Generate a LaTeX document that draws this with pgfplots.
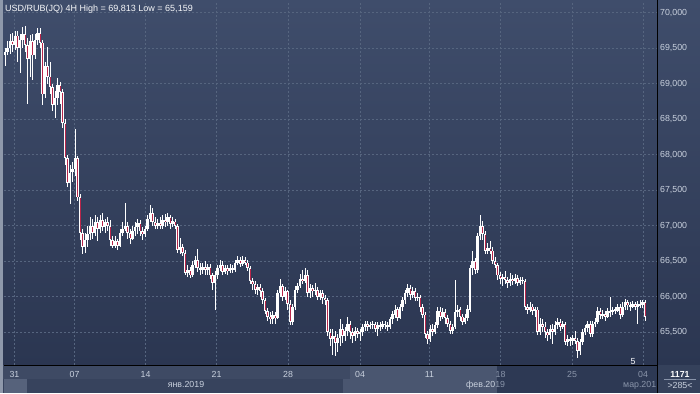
\documentclass[border=0pt]{standalone}
\usepackage{fontspec}
\setmainfont{Liberation Sans}
\usepackage{pgfplots}
\usepackage{pgfplotstable}
\pgfplotsset{compat=1.18}
\definecolor{bgtop}{HTML}{3F4D6B}
\definecolor{bgbot}{HTML}{2B3651}
\definecolor{gridc}{HTML}{56657F}
\definecolor{lbl}{HTML}{C9D1DE}
\definecolor{lbldim}{HTML}{8A95AA}
\definecolor{bear}{HTML}{B8264A}
\definecolor{bandA}{HTML}{3E4A64}
\definecolor{bandB}{HTML}{37435D}
\definecolor{bandL}{HTML}{56627B}
\definecolor{bandM}{HTML}{4A5670}
\definecolor{bandD}{HTML}{2D3954}
\definecolor{boxc}{HTML}{35415B}
\definecolor{strip}{HTML}{8F99AB}
\definecolor{pricebox}{HTML}{C9CED8}
\definecolor{pricetxt}{HTML}{2B3650}

\pgfplotstableread{
o h l c
69.40 69.50 69.25 69.45
69.45 69.60 69.40 69.50
69.50 69.70 69.42 69.60
69.60 69.72 69.45 69.55
69.55 69.75 69.48 69.68
69.68 69.74 69.30 69.50
69.50 69.70 69.15 69.62
69.62 69.80 69.50 69.70
69.70 69.81 69.45 69.55
69.55 69.65 68.72 69.35
69.35 69.68 69.10 69.60
69.60 69.70 69.05 69.40
69.40 69.70 69.35 69.62
69.62 69.78 69.55 69.72
69.72 69.78 69.50 69.58
69.58 69.62 68.70 68.85
68.85 69.30 68.80 69.25
69.25 69.52 69.00 69.10
69.10 69.30 68.85 68.95
68.95 69.00 68.62 68.70
68.70 68.90 68.52 68.80
68.80 69.08 68.70 68.98
68.98 69.02 68.72 68.88
68.88 68.92 68.38 68.45
68.45 68.50 67.85 67.95
67.95 68.00 67.55 67.60
67.60 67.85 67.30 67.75
67.75 67.90 67.62 67.80
67.80 68.37 67.70 67.95
67.95 67.98 67.35 67.40
67.40 67.45 66.80 66.90
66.90 66.95 66.60 66.70
66.70 66.90 66.62 66.80
66.80 67.00 66.70 66.88
66.88 67.12 66.80 67.00
67.00 67.10 66.82 66.90
66.90 67.15 66.85 67.05
67.05 67.12 66.78 66.95
66.95 67.15 66.90 67.08
67.08 67.18 66.92 66.98
66.98 67.10 66.90 67.05
67.05 67.12 66.92 67.00
67.00 67.08 66.72 66.80
66.80 66.85 66.68 66.72
66.72 66.85 66.68 66.78
66.78 66.82 66.66 66.72
66.72 66.95 66.70 66.90
66.90 67.05 66.85 66.95
66.95 67.32 66.92 67.00
67.00 67.05 66.82 66.90
66.90 66.95 66.75 66.82
66.82 67.00 66.80 66.92
66.92 67.05 66.85 66.98
66.98 67.10 66.88 67.04
67.04 67.08 66.85 66.92
66.92 66.98 66.80 66.88
66.88 67.00 66.84 66.95
66.95 67.15 66.92 67.10
67.10 67.29 67.05 67.18
67.18 67.25 67.00 67.05
67.05 67.12 66.95 67.00
67.00 67.10 66.95 67.04
67.04 67.12 66.96 67.00
67.00 67.15 66.95 67.08
67.08 67.17 66.98 67.05
67.05 67.18 67.00 67.12
67.12 67.15 66.95 67.02
67.02 67.12 66.98 67.06
67.06 67.10 66.96 67.00
67.00 67.03 66.62 66.66
66.66 66.82 66.60 66.70
66.70 66.75 66.58 66.62
66.62 66.66 66.30 66.33
66.33 66.45 66.28 66.38
66.38 66.42 66.26 66.30
66.30 66.50 66.28 66.45
66.45 66.58 66.40 66.52
66.52 66.67 66.35 66.40
66.40 66.48 66.30 66.38
66.38 66.48 66.32 66.42
66.42 66.50 66.30 66.38
66.38 66.46 66.30 66.42
66.42 66.46 66.25 66.30
66.30 66.34 66.10 66.20
66.20 66.36 65.82 66.30
66.30 66.45 66.25 66.40
66.40 66.52 66.36 66.45
66.45 66.50 66.30 66.35
66.35 66.45 66.32 66.40
66.40 66.45 66.30 66.36
66.36 66.46 66.33 66.40
66.40 66.44 66.33 66.38
66.38 66.52 66.35 66.48
66.48 66.58 66.44 66.52
66.52 66.56 66.42 66.46
66.46 66.58 66.43 66.52
66.52 66.56 66.44 66.48
66.48 66.52 66.36 66.40
66.40 66.44 66.18 66.22
66.22 66.26 66.10 66.18
66.18 66.22 66.04 66.10
66.10 66.18 66.02 66.14
66.14 66.18 66.00 66.08
66.08 66.12 65.90 65.95
65.95 65.98 65.75 65.80
65.80 65.84 65.66 65.72
65.72 65.78 65.62 65.68
65.68 65.80 65.62 65.74
65.74 65.78 65.62 65.70
65.70 66.10 65.68 66.05
66.05 66.25 66.00 66.15
66.15 66.18 65.94 66.00
66.00 66.14 65.95 66.08
66.08 66.10 65.82 65.90
65.90 65.95 65.60 65.65
65.65 65.90 65.60 65.85
65.85 66.15 65.82 66.10
66.10 66.20 66.05 66.15
66.15 66.32 66.12 66.25
66.25 66.38 66.18 66.22
66.22 66.40 66.20 66.30
66.30 66.38 66.00 66.05
66.05 66.18 65.98 66.12
66.12 66.16 66.00 66.08
66.08 66.20 66.02 66.10
66.10 66.14 65.96 66.00
66.00 66.10 65.95 66.05
66.05 66.10 65.90 65.98
65.98 66.02 65.88 65.95
65.95 65.98 65.45 65.50
65.50 65.55 65.30 65.40
65.40 65.55 65.18 65.45
65.45 65.52 65.16 65.35
65.35 65.48 65.22 65.42
65.42 65.68 65.30 65.55
65.55 65.62 65.35 65.45
65.45 65.58 65.38 65.52
65.52 65.72 65.45 65.62
65.62 65.66 65.40 65.50
65.50 65.56 65.35 65.45
65.45 65.58 65.38 65.52
65.52 65.56 65.42 65.48
65.48 65.55 65.38 65.50
65.50 65.62 65.45 65.58
65.58 65.66 65.52 65.62
65.62 65.66 65.52 65.58
65.58 65.64 65.54 65.60
65.60 65.66 65.55 65.62
65.62 65.65 65.50 65.55
65.55 65.64 65.45 65.60
65.60 65.65 65.52 65.58
65.58 65.66 65.54 65.62
65.62 65.66 65.55 65.60
65.60 65.65 65.52 65.58
65.58 65.72 65.55 65.68
65.68 65.80 65.62 65.75
65.75 65.88 65.70 65.82
65.82 65.86 65.66 65.70
65.70 65.90 65.68 65.85
65.85 66.00 65.80 65.95
65.95 66.10 65.90 66.05
66.05 66.18 66.00 66.12
66.12 66.16 65.96 66.02
66.02 66.14 65.98 66.08
66.08 66.12 65.94 65.98
65.98 66.05 65.94 66.00
66.00 66.02 65.78 65.85
65.85 65.90 65.70 65.75
65.75 65.78 65.42 65.48
65.48 65.52 65.33 65.40
65.40 65.60 65.36 65.55
65.55 65.62 65.45 65.50
65.50 65.65 65.48 65.60
65.60 65.85 65.56 65.80
65.80 65.86 65.66 65.72
65.72 65.84 65.68 65.78
65.78 65.82 65.62 65.70
65.70 65.74 65.58 65.62
65.62 65.66 65.48 65.52
65.52 65.62 65.48 65.58
65.58 66.23 65.55 65.78
65.78 65.88 65.72 65.82
65.82 65.86 65.66 65.72
65.72 65.76 65.60 65.65
65.65 65.76 65.62 65.70
65.70 65.88 65.66 65.82
65.82 66.45 65.78 66.40
66.40 66.64 66.30 66.50
66.50 66.55 66.32 66.38
66.38 66.90 66.34 66.85
66.85 67.15 66.80 67.00
67.00 67.06 66.80 66.88
66.88 66.92 66.60 66.64
66.64 66.76 66.60 66.68
66.68 66.78 66.60 66.65
66.65 66.70 66.46 66.50
66.50 66.56 66.40 66.45
66.45 66.48 66.24 66.30
66.30 66.35 66.18 66.25
66.25 66.32 66.15 66.28
66.28 66.36 66.18 66.24
66.24 66.28 66.12 66.20
66.20 66.34 66.15 66.25
66.25 66.30 66.16 66.22
66.22 66.32 66.18 66.26
66.26 66.30 66.15 66.20
66.20 66.28 66.16 66.24
66.24 66.28 66.18 66.22
66.22 66.25 65.82 65.86
65.86 65.90 65.76 65.82
65.82 65.92 65.78 65.86
65.86 65.90 65.74 65.80
65.80 65.86 65.72 65.82
65.82 65.85 65.46 65.50
65.50 65.70 65.46 65.62
65.62 65.68 65.50 65.58
65.58 65.65 65.42 65.50
65.50 65.55 65.38 65.46
65.46 65.60 65.40 65.55
65.55 65.62 65.34 65.50
65.50 65.66 65.46 65.60
65.60 65.70 65.55 65.64
65.64 65.68 65.52 65.58
65.58 65.66 65.54 65.62
65.62 65.64 65.32 65.36
65.36 65.46 65.30 65.40
65.40 65.44 65.30 65.38
65.38 65.46 65.32 65.42
65.42 65.52 65.34 65.38
65.38 65.42 65.14 65.24
65.24 65.40 65.18 65.36
65.36 65.55 65.32 65.50
65.50 65.60 65.46 65.56
65.56 65.66 65.50 65.62
65.62 65.66 65.44 65.48
65.48 65.66 65.44 65.62
65.62 65.70 65.58 65.65
65.65 65.86 65.62 65.80
65.80 65.84 65.68 65.74
65.74 65.82 65.68 65.76
65.76 65.80 65.66 65.72
65.72 65.84 65.70 65.80
65.80 66.00 65.72 65.78
65.78 65.86 65.74 65.82
65.82 65.86 65.76 65.80
65.80 65.90 65.78 65.86
65.86 65.90 65.68 65.74
65.74 65.92 65.72 65.86
65.86 65.97 65.82 65.92
65.92 65.96 65.82 65.88
65.88 65.92 65.80 65.86
65.86 65.94 65.84 65.90
65.90 65.93 65.82 65.86
65.86 65.94 65.62 65.90
65.90 65.95 65.84 65.88
65.88 65.96 65.84 65.92
65.92 65.95 65.66 65.72
}\candles

\begin{document}
\begin{tikzpicture}
\begin{scope}[x=1pt,y=1pt]
\shade[top color=bgtop,bottom color=bgbot] (0,28) rectangle (700,393);
\fill[bandA] (0,14) rectangle (350,28);
\fill[bandB] (0,0) rectangle (343,14);
\fill[bandL] (4,0) rectangle (27,14);
\fill[bandM] (343,0) rectangle (497,14);
\fill[bandM] (350,14) rectangle (497,28);
\fill[bandD] (497,0) rectangle (657,28);
\fill[boxc] (657,0) rectangle (700,28);
\fill[strip] (0,0) rectangle (3,393);
\end{scope}

\begin{axis}[
  at={(4pt,28pt)}, anchor=south west, scale only axis,
  width=653pt, height=364pt,
  xmin=4, xmax=657, ymin=65.038, ymax=70.165,
  axis line style={draw=none}, major tick length=0pt,
  xtick={14.5,74.5,145.5,216.5,288,360,429.5,500.5,572,643},
  xticklabels={},
  ytick={65.5,66,66.5,67,67.5,68,68.5,69,69.5,70},
  scaled y ticks=false,
  yticklabel pos=right,
  yticklabel style={anchor=west, font=\fontsize{8.8}{10}\selectfont, text=lbl, inner sep=0pt, xshift=3pt,
    /pgf/number format/.cd, fixed, fixed zerofill, precision=3, use comma, 1000 sep={}, assume math mode=true},
  grid=major,
  major grid style={gridc, dash pattern=on 2pt off 2pt, line width=0.5pt},
  every axis plot/.append style={draw=none, mark=none},
]
% wicks
\addplot[draw=none, mark=none, error bars/.cd, y dir=both, y explicit, error mark=none,
  error bar style={draw=white, line width=0.7pt}]
  table[x expr={5+2.5*\coordindex}, y expr={(\thisrow{h}+\thisrow{l})/2}, y error expr={(\thisrow{h}-\thisrow{l})/2}] {\candles};
% bodies
\addplot[draw=none, mark=none, error bars/.cd, y dir=both, y explicit, error mark=none,
  error bar style={draw=white, line width=2.3pt}]
  table[x expr={5+2.5*\coordindex}, y expr={(\thisrow{o}+\thisrow{c})/2}, y error expr={max(abs(\thisrow{o}-\thisrow{c})/2,0.008)}] {\candles};
% bearish interior
\addplot[draw=none, mark=none, error bars/.cd, y dir=both, y explicit, error mark=none,
  error bar style={draw=bear, line width=1pt}]
  table[x expr={5+2.5*\coordindex}, y expr={(\thisrow{o}+\thisrow{c})/2}, y error expr={max((\thisrow{o}-\thisrow{c})/2-0.012,0)}] {\candles};
% last price marker
\fill[pricebox, draw=white!70!gray] (axis cs:658.5,65.718) -- ++(4pt,5pt) -- ++(34pt,0) -- ++(0,-10pt) -- ++(-34pt,0) -- cycle;
\node[anchor=west, inner sep=0pt, text=pricetxt, font=\fontsize{8.8}{10}\selectfont] at (axis cs:662,65.718) {65,718};
\end{axis}

\begin{scope}[x=1pt,y=1pt]
\draw[black, line width=1pt] (4,28) -- (657,28);
\draw[black, line width=1pt] (657,0) -- (657,393);
\node[anchor=base west, inner sep=0pt, text=white!85!lbl, font=\fontsize{9}{10}\selectfont] at (5,381) {USD/RUB(JQ) 4H High = 69,813 Low = 65,159};
\node[anchor=base, inner sep=0pt, text=white!90!lbl, font=\fontsize{8.8}{10}\selectfont] at (633,29) {5};
\begin{scope}[every node/.style={anchor=base, inner sep=0pt, font=\fontsize{8.8}{10}\selectfont}]
\node[text=lbl] at (14.5,16) {31};
\node[text=lbl] at (74.5,16) {07};
\node[text=lbl] at (145.5,16) {14};
\node[text=lbl] at (216.5,16) {21};
\node[text=lbl] at (288,16) {28};
\node[text=lbl] at (360,16) {04};
\node[text=lbl] at (429.5,16) {11};
\node[text=lbldim] at (500.5,16) {18};
\node[text=lbldim] at (572,16) {25};
\node[text=lbldim] at (643,16) {04};
\node[text=lbl] at (186,5.5) {янв.2019};
\node[anchor=base west] at (466,5.5) {\textcolor{lbl}{фев.20}\textcolor{lbldim}{19}};
\node[anchor=base west, text=lbldim] at (623,5.5) {мар.201};
\node[text=white, font=\fontsize{8.8}{10}\selectfont\bfseries] at (680,16) {1171};
\node[text=lbl] at (680,4.5) {>285<};
\end{scope}
\draw[lbldim, line width=0.5pt] (664,13.5) -- (696,13.5);
\end{scope}
\pgfresetboundingbox
\path (0,0) rectangle (700pt,393pt);
\end{tikzpicture}
\end{document}
